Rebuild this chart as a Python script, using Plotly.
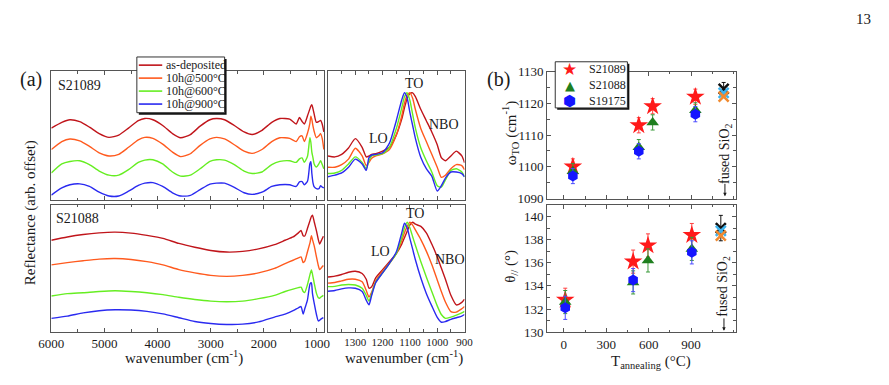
import plotly.graph_objects as go

FONT = "Liberation Serif, Times New Roman, serif"
W, H = 889, 385

# ---------------- data: panel (a) ----------------
series_labels = ["as-deposited", "10h@500°C", "10h@600°C", "10h@900°C"]
colors_a = ["#c0151b", "#ff5a1e", "#66ee22", "#2a2af0"]

# S21089, full range (arb. offset units)
wn_top_full = [6000, 5803, 5650, 5466, 5283, 5099, 4915, 4731, 4547, 4363, 4241, 4088, 3904, 3720,
               3567, 3383, 3199, 3015, 2893, 2740, 2556, 2372, 2219, 2035, 1851, 1698, 1514, 1391,
               1330, 1281, 1238, 1177, 1134, 1115, 1097, 1075, 1055, 1012, 963, 932, 901, 871]
s21089_asdep = [75, 81, 83.7, 81.7, 76, 69.3, 65.3, 67.7, 75, 82.7, 85, 83.7, 77.7, 69.3,
                65, 68.3, 77, 83.7, 85, 83.7, 77.7, 71, 68.3, 72.7, 81, 85, 84.3, 79.3,
                86, 82, 79.3, 88, 95, 98, 99.3, 95, 90, 81, 82, 83, 79, 71]
s21089_500 = [52.7, 61, 63.7, 61.7, 56, 49.3, 46, 47.7, 55, 62.7, 65.3, 64.3, 58.3, 50,
              45.3, 48.3, 57, 63.7, 65.3, 63.7, 57.7, 51, 48.7, 52.7, 61, 65, 64.3, 61,
              66, 67, 61, 70, 80, 87.5, 84, 77, 72, 65, 67, 69.3, 64, 52.7]
s21089_600 = [28.3, 37.7, 40.3, 41, 37, 30.3, 26, 26, 31.7, 39.3, 41.7, 42, 37.7, 29.3,
              25, 26, 32.7, 40.3, 42, 41.7, 37, 30.3, 27.7, 29.3, 37, 40.3, 41, 39.3,
              43, 44, 39.3, 46, 65, 60, 50, 44, 38, 34.5, 38, 41, 37, 32.7]
s21089_900 = [5.3, 12.7, 16, 17, 14.3, 8.3, 4.3, 4.3, 9.3, 15.3, 17.7, 18.3, 14.3, 7.7,
              4.3, 5, 11, 16.7, 17.7, 17.7, 13.3, 7.7, 6, 8.3, 14.3, 16, 16, 14.3,
              19, 19.3, 16, 20, 38, 40, 28, 18, 14, 12, 12, 15, 13.5, 12.7]

# S21088, full range
wn_bot_full = [6000, 5700, 5400, 5100, 4800, 4500, 4200, 3900, 3600, 3300, 3000, 2700, 2400, 2100,
               1800, 1600, 1450, 1350, 1300, 1260, 1230, 1180, 1130, 1105, 1085, 1050, 1010, 975,
               950, 920, 880]
s21088_asdep = [95.3, 98.7, 101.3, 103, 103.7, 102.7, 100.3, 97.3, 92, 88, 84.7, 83, 83.7, 86.3,
                90.7, 95.3, 98.7, 103, 105.5, 100, 99.7, 107.5, 116, 120, 121.3, 114, 105, 96,
                91.3, 94.7, 99.5]
s21088_500 = [69.7, 72, 74, 75.7, 76.3, 75.3, 73, 69.7, 64.7, 61.3, 58.7, 57.7, 58.7, 61.3,
              66, 71, 74.5, 77, 78, 72, 73.5, 83, 93, 100, 96, 89, 78, 69,
              64.7, 66.5, 69]
s21088_600 = [37.3, 39.7, 40.7, 42, 42.7, 42, 40.7, 38.7, 36, 33.7, 32, 31.3, 32, 34.5,
              38, 42, 44.5, 46, 46.5, 42, 41, 49, 60, 64.5, 60, 50, 40, 35.5,
              35, 36.5, 38]
s21088_900 = [14, 16.3, 19.7, 22, 23, 22.7, 21.3, 18.7, 14.7, 10.7, 8.7, 7.7, 8, 10.3,
              15.3, 18.5, 22, 25, 26.3, 18.5, 24, 33, 50, 51, 40, 29, 18, 11.3,
              12, 13.5, 14.7]

# zoomed 1400-900 cm-1 region
wn_zoom = [1400, 1375, 1350, 1325, 1300, 1275, 1260, 1250, 1240, 1225, 1200, 1175, 1150, 1130,
           1120, 1110, 1100, 1090, 1080, 1060, 1040, 1020, 1000, 985, 970, 950, 930, 910, 900]
z21089_asdep = [46, 45, 47.7, 54.3, 64, 55, 45, 46, 47.7, 48.3, 51, 55, 67.7, 84.3,
                96, 106, 111, 111.7, 107.7, 94.3, 82.7, 71, 57.7, 44.3, 41, 46, 51, 46, 39]
z21089_500 = [34.3, 34.3, 37, 42.7, 54, 46, 36, 39.3, 43.7, 46, 48.3, 52.7, 67.7, 87.7,
              101, 109.3, 111.7, 106, 94.3, 74.3, 61, 47.7, 34.3, 23.7, 26, 32.7, 37, 36, 31.7]
z21089_600 = [27.7, 28.3, 31, 37.7, 45, 39.3, 32.7, 41, 46, 47, 48.3, 55, 74.3, 96,
              107.7, 111.7, 103.7, 89.3, 75, 54.3, 41, 29.3, 15, 13.5, 21, 31, 32.7, 29.3, 24.3]
z21089_900 = [24.3, 26, 28.3, 34.3, 42.7, 37.7, 31, 44.3, 47, 47.7, 49.3, 59.3, 82.7, 104.3,
              111.7, 106, 91, 77.7, 64.3, 44.3, 32.7, 25, 9.5, 15, 23, 29.3, 29.3, 27.7, 24.3]
z21088_asdep = [57, 58, 59.7, 62, 63, 60.7, 54.7, 45.5, 47, 56.3, 64.7, 73, 81.3, 91.3,
                98, 104.7, 111.3, 114, 112, 109.7, 103, 91.3, 78, 66.3, 54.7, 38, 28, 30.7, 34]
z21088_500 = [50.7, 51.3, 53, 54.7, 54.7, 52, 43, 36.3, 41.3, 53, 63, 71.3, 81.3, 94.7,
              103, 109.7, 114, 111, 106, 96, 84, 70, 54, 42, 31, 21, 20.5, 24, 26.3]
z21088_600 = [47, 47.3, 48.7, 49.3, 48.7, 45.3, 38, 32, 39.7, 52, 61.3, 71.3, 81.3, 98,
              108, 114, 108, 99, 90, 73, 57, 42, 27, 18, 14, 15.3, 17.3, 19.7, 21.3]
z21088_900 = [42.3, 43, 44.7, 45.7, 45.3, 42, 33, 28, 38, 51.3, 61.3, 71.3, 83, 103,
              113, 108, 97, 86, 75, 56, 40, 27, 15, 10, 10.7, 13, 14.7, 16.3, 18]

# tick labels
ticks_a_full = [6000, 5000, 4000, 3000, 2000, 1000]
ticks_a_zoom = [1300, 1200, 1100, 1000, 900]
ticks_b_T = [0, 300, 600, 900]

# ---------------- data: panel (b) ----------------
b_labels = ["S21089", "S21088", "S19175"]
T_top = [64, 530, 628, 930]
T_top_S19175 = [64, 530, 930]
wTO_S21089 = [1100.1, 1113.1, 1119.1, 1122.1]
wTO_S21088 = [1098.6, 1106.2, 1114.0, 1117.8]
wTO_S19175 = [1097.1, 1104.9, 1116.6]
wTO_err = 2.4

T_bot = [10, 490, 595, 905]
T_bot_S19175 = [10, 490, 905]
th_S21089 = [132.8, 136.1, 137.5, 138.4]
th_S21088 = [132.6, 134.3, 136.2, 137.2]
th_S19175 = [132.1, 134.5, 136.9]
th_err = 1.0

fused_T_top = 1130
fused_T_bot = 1110
fused_wTO = [1124.6, 1123.3, 1122.1]
fused_th = [139.0, 138.75, 138.35]
fused_colors = ["#111111", "#3fb4ee", "#f08a30"]

# ---------------- helpers ----------------
def pxx(x):
    return x / W

def pxy(y):
    return 1 - y / H

def dom_x(a, b):
    return [a / W, b / W]

def dom_y(top, bottom):
    return [1 - bottom / H, 1 - top / H]

fig = go.Figure()

def add_spec(x, ys, xa, ya):
    for y, c in zip(ys, colors_a):
        fig.add_trace(go.Scatter(x=x, y=y, mode="lines",
                                 line=dict(color=c, width=1.4, shape="spline", smoothing=0.6),
                                 xaxis=xa, yaxis=ya, showlegend=False, hoverinfo="skip"))

add_spec(wn_top_full, [s21089_asdep, s21089_500, s21089_600, s21089_900], "x", "y")
add_spec(wn_bot_full, [s21088_asdep, s21088_500, s21088_600, s21088_900], "x2", "y2")
add_spec(wn_zoom, [z21089_asdep, z21089_500, z21089_600, z21089_900], "x3", "y3")
add_spec(wn_zoom, [z21088_asdep, z21088_500, z21088_600, z21088_900], "x4", "y4")

# panel (b)
b_specs = [
    ("star", "#ff1a1a", 14, "#ff4040"),
    ("triangle-up", "#1f7f1f", 11, "#3a9a3a"),
    ("hexagon", "#1515ff", 11, "#4a4aff"),
]
top_sets = [(T_top, wTO_S21089), (T_top, wTO_S21088), (T_top_S19175, wTO_S19175)]
bot_sets = [(T_bot, th_S21089), (T_bot, th_S21088), (T_bot_S19175, th_S19175)]
for (sym, col, sz, ecol), (xt, yt), (xb, yb) in zip(b_specs, top_sets, bot_sets):
    fig.add_trace(go.Scatter(x=xt, y=yt, mode="markers", xaxis="x5", yaxis="y5",
                             marker=dict(symbol=sym, color=col, size=sz, line=dict(width=0)),
                             error_y=dict(type="constant", value=wTO_err, color=ecol, thickness=1, width=2),
                             showlegend=False, hoverinfo="skip"))
    fig.add_trace(go.Scatter(x=xb, y=yb, mode="markers", xaxis="x6", yaxis="y6",
                             marker=dict(symbol=sym, color=col, size=sz, line=dict(width=0)),
                             error_y=dict(type="constant", value=th_err, color=ecol, thickness=1, width=2),
                             showlegend=False, hoverinfo="skip"))

for i, (wv, tv, c) in enumerate(zip(fused_wTO, fused_th, fused_colors)):
    fig.add_trace(go.Scatter(x=[fused_T_top], y=[wv], mode="markers", xaxis="x5", yaxis="y5",
                             marker=dict(symbol="x-thin", size=10, line=dict(color=c, width=2.5)),
                             error_y=dict(type="constant", value=2.0 if i == 0 else 0, color=c, thickness=1, width=2),
                             showlegend=False, hoverinfo="skip"))
    fig.add_trace(go.Scatter(x=[fused_T_bot], y=[tv], mode="markers", xaxis="x6", yaxis="y6",
                             marker=dict(symbol="x-thin", size=10, line=dict(color=c, width=2.5)),
                             error_y=dict(type="constant", value=1.1 if i == 0 else 0, color=c, thickness=1, width=2),
                             showlegend=False, hoverinfo="skip"))

# ---------------- axes ----------------
LC = "#555555"

def tf(size):
    return dict(family=FONT, size=size, color="#1a1a1a")

def xax(domain, anchor, rng, minor, labels, tickvals, fsize=13):
    return dict(domain=domain, anchor=anchor, range=rng, tickmode="array", tickvals=tickvals,
                showline=True, linecolor=LC, linewidth=1, mirror="ticks",
                ticks="inside", ticklen=4, tickwidth=1, tickcolor=LC, tickangle=0,
                minor=dict(dtick=minor, tick0=0, ticks="inside", ticklen=2.5, tickcolor=LC, tickwidth=1),
                showgrid=False, zeroline=False, showticklabels=labels, tickfont=tf(fsize))

def yax_plain(domain, anchor, rng):
    return dict(domain=domain, anchor=anchor, range=rng, showline=True, linecolor=LC,
                linewidth=1, mirror=True, ticks="", showticklabels=False,
                showgrid=False, zeroline=False)

def yax_b(domain, anchor, rng, dtick, minor, tick0):
    return dict(domain=domain, anchor=anchor, range=rng, dtick=dtick, tick0=tick0,
                showline=True, linecolor=LC, linewidth=1, mirror="ticks",
                ticks="inside", ticklen=4, tickwidth=1, tickcolor=LC,
                minor=dict(dtick=minor, ticks="inside", ticklen=2.5, tickcolor=LC, tickwidth=1),
                showgrid=False, zeroline=False, tickfont=tf(13))

TOP_A = (67, 201)
BOT_A = (206, 338)

layout = dict(
    width=W, height=H, margin=dict(l=0, r=0, t=0, b=0),
    paper_bgcolor="white", plot_bgcolor="white", showlegend=False,
    font=dict(family=FONT, color="#1a1a1a"),
    xaxis=xax(dom_x(39.3, 319), "y", [6000, 866], 500, False, ticks_a_full),
    yaxis=yax_plain(dom_y(*TOP_A), "x", [0, 134]),
    xaxis2=xax(dom_x(39.3, 319), "y2", [6000, 866], 500, True, ticks_a_full),
    yaxis2=yax_plain(dom_y(*BOT_A), "x2", [0, 132]),
    xaxis3=xax(dom_x(323, 463), "y3", [1400, 900], 50, False, ticks_a_zoom, 11),
    yaxis3=yax_plain(dom_y(*TOP_A), "x3", [0, 134]),
    xaxis4=xax(dom_x(323, 463), "y4", [1400, 900], 50, True, ticks_a_zoom, 11),
    yaxis4=yax_plain(dom_y(*BOT_A), "x4", [0, 132]),
    xaxis5=xax(dom_x(547.7, 741), "y5", [-118, 1215], 150, False, ticks_b_T),
    yaxis5=yax_b(dom_y(67.3, 199.3), "x5", [1090, 1130], 10, 5, 1090),
    xaxis6=xax(dom_x(547.7, 741), "y6", [-118, 1215], 150, True, ticks_b_T),
    yaxis6=yax_b(dom_y(206, 338.3), "x6", [130, 141], 2, 1, 130),
)
fig.update_layout(**layout)

# ---------------- annotations & shapes ----------------
ann = []
shapes = []

def text(x, y, s, size=14, xanchor="center", yanchor="middle", angle=0, color="#1a1a1a", family=FONT):
    ann.append(dict(x=pxx(x), y=pxy(y), xref="paper", yref="paper", text=s, showarrow=False,
                    xanchor=xanchor, yanchor=yanchor, textangle=angle,
                    font=dict(family=family, size=size, color=color)))

text(18, 75, "(a)", size=20)
text(498, 75, "(b)", size=20)
text(872, 13, "13", size=15)
text(44, 82, "S21089", size=14, xanchor="left")
text(42, 220, "S21088", size=14, xanchor="left")
text(18, 214, "Reflectance (arb. offset)", size=15, angle=-90)
text(175, 365, "wavenumber (cm<sup>-1</sup>)", size=15)
text(401, 365, "wavenumber (cm<sup>-1</sup>)", size=15)
text(411, 80, "TO", size=14)
text(375, 137, "LO", size=14)
text(442, 122, "NBO", size=14)
text(412, 215, "TO", size=14)
text(377, 254, "LO", size=14)
text(448, 263, "NBO", size=14)
text(510, 131, "ω<sub>TO</sub> (cm<sup>-1</sup>)", size=15, angle=-90)
text(511, 270, "θ<sub>//</sub> (°)", size=15, angle=-90)
text(654, 369, "T<sub>annealing</sub> (°C)", size=15)
text(730, 152, "fused SiO<sub>2</sub>", size=14, angle=-90)
text(729, 290, "fused SiO<sub>2</sub>", size=14, angle=-90)

# arrows under "fused SiO2"
for xa, ytip in [(730, 197), (729, 337)]:
    ann.append(dict(x=pxx(xa), y=pxy(ytip), xref="paper", yref="paper", ax=0, ay=-14,
                    axref="pixel", ayref="pixel", text="", showarrow=True, arrowhead=2,
                    arrowsize=0.7, arrowwidth=1, arrowcolor="#1a1a1a"))

def rect(x0, y0, x1, y1, fill, line=None):
    shapes.append(dict(type="rect", xref="paper", yref="paper", x0=pxx(x0), x1=pxx(x1),
                       y0=pxy(y1), y1=pxy(y0), fillcolor=fill,
                       line=dict(width=1 if line else 0, color=line or fill), layer="above"))

# legend (a)
rect(129, 54, 219, 112, "#111111")
rect(127, 52, 217, 110, "white", "#333333")
rows_a = [60.5, 74, 87.5, 101]
for yy, lab, c in zip(rows_a, series_labels, colors_a):
    shapes.append(dict(type="line", xref="paper", yref="paper", x0=pxx(129), x1=pxx(153),
                       y0=pxy(yy), y1=pxy(yy), line=dict(color=c, width=1.6), layer="above"))
    text(155, yy, lab, size=12, xanchor="left")

# legend (b)
rect(558, 59, 632, 107, "#111111")
rect(556, 57, 630, 105, "white", "#333333")
rows_b = [65, 81.5, 97.5]
glyphs = [("★", "#ff1a1a", 17), ("▲", "#1f7f1f", 13), ("⬢", "#1515ff", 15)]
for yy, lab, (g, c, s) in zip(rows_b, b_labels, glyphs):
    text(571, yy, g, size=s, color=c, family="DejaVu Sans")
    text(589, yy, lab, size=12, xanchor="left")

fig.update_layout(annotations=ann, shapes=shapes)
fig.write_html("out.html")
